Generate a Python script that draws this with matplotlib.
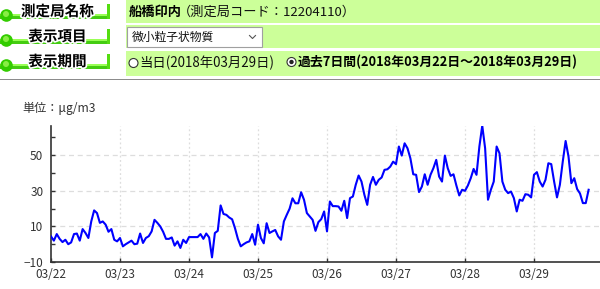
import matplotlib
matplotlib.use('Agg')
import matplotlib.pyplot as plt
import matplotlib.patheffects as pe
from matplotlib.patches import Rectangle, Circle
from matplotlib.lines import Line2D
import numpy as np

plt.rcParams['font.family'] = ['Noto Sans CJK JP', 'DejaVu Sans']

# ---------------- data ----------------
day_labels = ['03/22', '03/23', '03/24', '03/25', '03/26', '03/27', '03/28', '03/29']
y_ticks = [-10, 10, 30, 50]
y_minor = [0, 20, 40, 60]
unit_label = '単位：μg/m3'
row_titles = ['測定局名称', '表示項目', '表示期間']
station_name = '船橋印内'
station_code = '（測定局コード：12204110）'
item_name = '微小粒子状物質'
period_today = '当日(2018年03月29日)'
period_week = '過去7日間(2018年03月22日～2018年03月29日)'

# hourly PM2.5 values (µg/m3), 03/22 00h onward
pm25 = [
    4.4, 2.0, 5.7, 3.0, 1.2, 2.5, 0.0, 1.0, 5.7, 6.0, 2.0, 8.5,
    6.3, 3.5, 12.8, 19.0, 17.5, 12.0, 12.8, 11.0, 7.0, 8.5, 2.5, 1.6,
    3.5, -1.2, 0.0, 1.0, 2.0, 0.0, 0.3, 6.0, 0.7, 3.5, 4.5, 7.2,
    13.7, 12.0, 10.0, 7.0, 3.0, 3.0, 3.8, -0.8, 1.6, -2.1, 2.5, 0.7,
    4.0, 4.0, 4.0, 4.0, 5.7, 3.0, 6.0, 3.8, -7.4, 6.3, 7.5, 21.8,
    17.0, 16.5, 15.0, 14.0, 9.0, 3.0, -1.2, 0.0, 1.0, 1.6, 5.7, -0.3,
    11.0, 3.5, 0.5, 11.8, 6.3, 7.2, 8.0, 4.4, 2.5, 12.8, 16.5, 20.0,
    25.8, 23.0, 23.0, 29.2, 25.0, 17.5, 15.6, 13.7, 7.5, 12.4, 14.1, 18.4,
    7.2, 24.0, 21.4, 21.4, 21.2, 18.8, 24.4, 14.7, 25.9, 26.8, 33.4, 38.6,
    35.2, 27.8, 22.1, 33.4, 37.8, 33.4, 36.2, 37.5, 41.8, 42.1, 43.6, 46.4,
    45.0, 54.9, 49.8, 56.7, 53.9, 48.3, 39.3, 39.0, 29.3, 32.4, 39.3, 33.4,
    39.0, 42.7, 47.4, 38.0, 35.2, 49.8, 42.7, 38.4, 39.3, 33.0, 27.4, 30.6,
    30.0, 33.0, 37.1, 42.3, 39.0, 54.9, 66.6, 53.9, 25.0, 30.6, 35.2, 54.9,
    51.1, 35.2, 30.6, 28.7, 29.6, 25.9, 18.4, 25.0, 24.4, 28.1, 27.8, 26.3,
    39.0, 40.5, 35.2, 32.4, 36.2, 45.5, 45.0, 35.2, 26.3, 33.4, 46.4, 58.0,
    49.3, 34.3, 37.1, 31.0, 28.5, 23.1, 23.1, 30.6,
]
hours = np.arange(len(pm25))

W, H = 600, 289
fig = plt.figure(figsize=(W / 100, H / 100), dpi=100)
fig.patch.set_facecolor('white')

# -------------- header (pixel coordinates) --------------
bg = fig.add_axes([0, 0, 1, 1])
bg.set_xlim(0, W)
bg.set_ylim(H, 0)
bg.axis('off')

rows = [(0, 22.7), (25.3, 48.3), (50.7, 76.0)]
for (y0, y1) in rows:
    bg.add_patch(Rectangle((126, y0), W - 126, y1 - y0, facecolor='#ccff99', edgecolor='none'))
bg.add_patch(Rectangle((0, 78.5), W, 1.6, facecolor='#8c8c8c', edgecolor='none'))

dot_cy = [14.5, 39.5, 64.5]
for i, cy in enumerate(dot_cy):
    bg.add_patch(Rectangle((0, cy - 0.5), 109, 2.5, facecolor='#99ff55', edgecolor='none'))
    bg.add_patch(Rectangle((0, cy + 1.5), 109, 2.5, facecolor='#44cc11', edgecolor='none'))
    bg.add_patch(Rectangle((106.5, cy - 11), 3, 15, facecolor='#55dd11', edgecolor='none'))
    bg.add_patch(Circle((6.5, cy + 1), 6.3, facecolor='#33cc00', edgecolor='none'))
    bg.add_patch(Circle((6.0, cy - 0.5), 3.0, facecolor='#88ee44', edgecolor='none'))
    bg.text(57.5, cy - 3.5, row_titles[i], fontsize=10.5, fontweight='bold', color='black',
            ha='center', va='center',
            path_effects=[pe.withStroke(linewidth=2.5, foreground='white')])

# row 1
bg.text(129, 12, station_name, fontsize=9.5, fontweight='bold', color='black',
        ha='left', va='center')
bg.text(178, 12, station_code, fontsize=9.5, color='#111111', ha='left', va='center')

# row 2: select box
bg.add_patch(Rectangle((127, 26.8), 135, 20, facecolor='white', edgecolor='#a0a0a0', lw=0.8))
bg.text(132, 37, item_name, fontsize=8.5, color='#111111', ha='left', va='center')
bg.add_line(Line2D([249.5, 252.5, 255.5], [35.5, 38.5, 35.5], color='#555555', lw=0.8))

# row 3: radio buttons
bg.add_patch(Circle((133.5, 63), 4.5, facecolor='white', edgecolor='#333333', lw=0.8))
bg.text(139, 63, period_today, fontsize=9.6, color='#111111', ha='left', va='center')
bg.add_patch(Circle((291.5, 62), 4.5, facecolor='white', edgecolor='#333333', lw=0.8))
bg.add_patch(Circle((291.5, 62), 2.2, facecolor='#222222', edgecolor='none'))
bg.text(298, 62, period_week, fontsize=9.25, fontweight='bold', color='black',
        ha='left', va='center')

# unit label
bg.text(22, 108, unit_label, fontsize=8.7, color='#333333', ha='left', va='center')

# -------------- chart --------------
left_px, right_px, bot_px, top_px = 51, 600, 262, 125.7
ax = fig.add_axes([left_px / W, (H - bot_px) / H, (right_px - left_px) / W, (bot_px - top_px) / H])
ax.set_facecolor('none')
ax.plot(hours, pm25, color='#0000ff', lw=1.5, solid_joinstyle='round', zorder=3)

ax.set_xlim(0, (right_px - left_px) / 69.0 * 24)
ax.set_ylim(-10, 66.6)

xt = [24 * i for i in range(len(day_labels))]
ax.set_xticks(xt)
ax.set_xticklabels(day_labels)
ax.set_yticks(y_ticks)
ax.set_yticks(y_minor, minor=True)

for v in y_ticks[1:]:
    ax.axhline(v, color='#dddddd', lw=0.9, ls=(0, (4, 3)), zorder=1)
for x in xt[1:]:
    ax.axvline(x, color='#dddddd', lw=0.9, ls=(0, (1.5, 2)), zorder=1)

for s in ['top', 'right']:
    ax.spines[s].set_visible(False)
for s in ['left', 'bottom']:
    ax.spines[s].set_color('#333333')
    ax.spines[s].set_linewidth(1.2)

ax.tick_params(axis='both', which='major', direction='in', length=3, width=1,
               color='#333333', labelsize=8.5, labelcolor='#333333')
ax.tick_params(axis='y', which='minor', direction='in', length=3, width=1, color='#333333')
ax.tick_params(axis='x', pad=4.5)
ax.tick_params(axis='y', pad=5.5)

fig.savefig('out.png', dpi=100, facecolor='white')
